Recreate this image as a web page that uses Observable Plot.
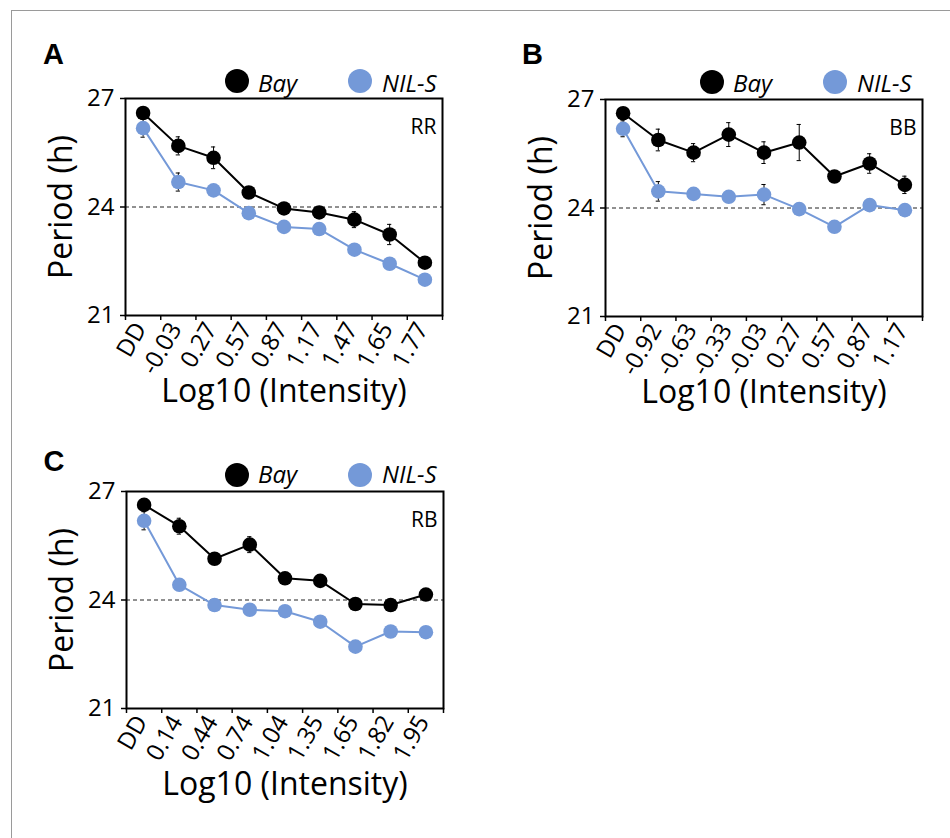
<!DOCTYPE html>
<html>
<head>
<meta charset="utf-8">
<script src="https://cdn.jsdelivr.net/npm/d3@7"></script>
<script src="https://cdn.jsdelivr.net/npm/@observablehq/plot@0.6"></script>
<style>
  body { margin: 0; background: white; }
  #fig { position: relative; width: 950px; height: 838px; overflow: hidden; background: white; font-family: 'Open Sans', sans-serif; }
  .outer { position: absolute; left: 11px; top: 10px; width: 2000px; height: 2000px; border: 1px solid #9a9a9a; z-index: 5; pointer-events: none; }
  .letter { position: absolute; font-family: 'Liberation Sans', Arial, sans-serif; font-weight: bold; font-size: 29px; line-height: 29px; color: #000; }
  .panel { position: absolute; }
  .lg-dot { position: absolute; width: 24px; height: 24px; border-radius: 50%; }
  .lg-txt { position: absolute; font-family: 'Open Sans', sans-serif; font-style: italic; font-size: 24px; line-height: 24px; color: #000; white-space: nowrap; }
</style>
</head>
<body>
<div id="fig">
  <div class="outer"></div>
</div>
<script>
// ---- data ----
const seriesNames = ["Bay", "NIL-S"];
const seriesColors = ["#000000", "#7499d8"];
const yTicks = [21, 24, 27];
const refLine = 24;
const yLabel = "Period (h)";
const xLabel = "Log10 (Intensity)";

const labelsA = ["DD", "-0.03", "0.27", "0.57", "0.87", "1.17", "1.47", "1.65", "1.77"];
const bayA    = [26.60, 25.69, 25.36, 24.40, 23.96, 23.85, 23.65, 23.24, 22.46];
const bayErrA = [0.10, 0.25, 0.30, 0.10, 0.10, 0.10, 0.22, 0.28, 0.10];
const nilA    = [26.18, 24.69, 24.46, 23.83, 23.45, 23.39, 22.82, 22.43, 21.99];
const nilErrA = [0.25, 0.25, 0.12, 0.10, 0.10, 0.10, 0.10, 0.10, 0.10];

const labelsB = ["DD", "-0.92", "-0.63", "-0.33", "-0.03", "0.27", "0.57", "0.87", "1.17"];
const bayB    = [26.62, 25.88, 25.53, 26.03, 25.53, 25.81, 24.87, 25.23, 24.64];
const bayErrB = [0.10, 0.30, 0.25, 0.33, 0.30, 0.50, 0.10, 0.27, 0.24];
const nilB    = [26.19, 24.46, 24.39, 24.31, 24.37, 23.97, 23.48, 24.08, 23.94];
const nilErrB = [0.22, 0.27, 0.10, 0.10, 0.28, 0.10, 0.10, 0.10, 0.10];

const labelsC = ["DD", "0.14", "0.44", "0.74", "1.04", "1.35", "1.65", "1.82", "1.95"];
const bayC    = [26.63, 26.04, 25.14, 25.53, 24.60, 24.53, 23.89, 23.86, 24.15];
const bayErrC = [0.12, 0.22, 0.12, 0.22, 0.10, 0.10, 0.10, 0.10, 0.10];
const nilC    = [26.19, 24.42, 23.86, 23.73, 23.69, 23.40, 22.71, 23.13, 23.11];
const nilErrC = [0.25, 0.10, 0.10, 0.10, 0.10, 0.10, 0.10, 0.10, 0.10];

// ---- layout ----
const panels = [
  {letter: "A", tag: "RR", labels: labelsA, bay: bayA, bayErr: bayErrA, nil: nilA, nilErr: nilErrA,
   left: 0, top: 90, marginLeft: 125, letterPos: [43, 39.5], legendY: 81, legendBaseline: 92, legendX: [237, 360], textX: [258, 382]},
  {letter: "B", tag: "BB", labels: labelsB, bay: bayB, bayErr: bayErrB, nil: nilB, nilErr: nilErrB,
   left: 480, top: 91, marginLeft: 125, letterPos: [522, 39.8], legendY: 82, legendBaseline: 92, legendX: [712, 835], textX: [733, 857]},
  {letter: "C", tag: "RB", labels: labelsC, bay: bayC, bayErr: bayErrC, nil: nilC, nilErr: nilErrC,
   left: 0, top: 483, marginLeft: 126, letterPos: [43.5, 447], legendY: 475, legendBaseline: 483.5, legendX: [237, 360], textX: [258, 382]}
];

const fig = document.getElementById("fig");

function rows(labels, vals, errs, series) {
  return labels.map((l, i) => ({i, label: l, v: vals[i], e: errs[i], series}));
}

function makePlot(p) {
  const n = p.labels.length;
  const data = [...rows(p.labels, p.bay, p.bayErr, seriesNames[0]), ...rows(p.labels, p.nil, p.nilErr, seriesNames[1])];
  const bounds = d3.range(n + 1).map(k => k - 0.5);
  return Plot.plot({
    width: 460, height: 340,
    marginLeft: p.marginLeft, marginRight: 460 - p.marginLeft - 317, marginTop: 8, marginBottom: 115,
    x: {domain: [-0.5, n - 0.5], axis: null},
    y: {domain: [21, 27], axis: null},
    color: {domain: seriesNames, range: seriesColors},
    style: {fontFamily: "'Open Sans', sans-serif", color: "black", overflow: "visible", maxWidth: "none", background: "transparent"},
    marks: [
      Plot.ruleY([refLine], {stroke: "#222", strokeWidth: 1, strokeDasharray: "4,3"}),
      Plot.ruleX(data, {x: "i", y1: d => d.v - d.e, y2: d => d.v + d.e, stroke: "black", strokeWidth: 1}),
      Plot.ruleY(data, {y: d => d.v + d.e, x1: d => d.i - 0.06, x2: d => d.i + 0.06, stroke: "black", strokeWidth: 1}),
      Plot.ruleY(data, {y: d => d.v - d.e, x1: d => d.i - 0.06, x2: d => d.i + 0.06, stroke: "black", strokeWidth: 1}),
      Plot.line(data, {x: "i", y: "v", z: "series", stroke: "series", strokeWidth: 2}),
      Plot.dot(data, {x: "i", y: "v", fill: "series", r: 7.3}),
      Plot.frame({stroke: "black", strokeWidth: 2}),
      Plot.axisY(yTicks, {tickSize: 5, tickPadding: 6, fontSize: 24, label: null, strokeWidth: 1.5}),
      Plot.axisX(bounds, {tickSize: 5, tickFormat: () => "", label: null, strokeWidth: 1.5}),
      Plot.text(p.labels, {x: (d, i) => i, frameAnchor: "bottom", rotate: -60, textAnchor: "end", dy: 13, dx: 4, fontSize: 24, fill: "black"}),
      Plot.text([p.tag], {frameAnchor: "top-right", textAnchor: "end", dx: -6, dy: 21, fontSize: 21, fill: "black"}),
      Plot.text([yLabel], {frameAnchor: "left", textAnchor: "middle", rotate: -90, dx: -64, fontSize: 32, fill: "black"}),
      Plot.text([xLabel], {frameAnchor: "bottom", textAnchor: "middle", dy: 86, fontSize: 32, fill: "black"})
    ]
  });
}

for (const p of panels) {
  const holder = document.createElement("div");
  holder.className = "panel";
  holder.style.left = p.left + "px";
  holder.style.top = p.top + "px";
  holder.style.width = "460px";
  holder.appendChild(makePlot(p));
  fig.appendChild(holder);

  const letter = document.createElement("div");
  letter.className = "letter";
  letter.textContent = p.letter;
  letter.style.left = p.letterPos[0] + "px";
  letter.style.top = p.letterPos[1] + "px";
  fig.appendChild(letter);

  seriesNames.forEach((name, k) => {
    const dot = document.createElement("div");
    dot.className = "lg-dot";
    dot.style.background = seriesColors[k];
    dot.style.left = (p.legendX[k] - 12) + "px";
    dot.style.top = (p.legendY - 12) + "px";
    fig.appendChild(dot);
    const txt = document.createElement("div");
    txt.className = "lg-txt";
    txt.textContent = name;
    txt.style.left = p.textX[k] + "px";
    txt.style.top = (p.legendBaseline - 21.3) + "px";
    fig.appendChild(txt);
  });
}
</script>
</body>
</html>
